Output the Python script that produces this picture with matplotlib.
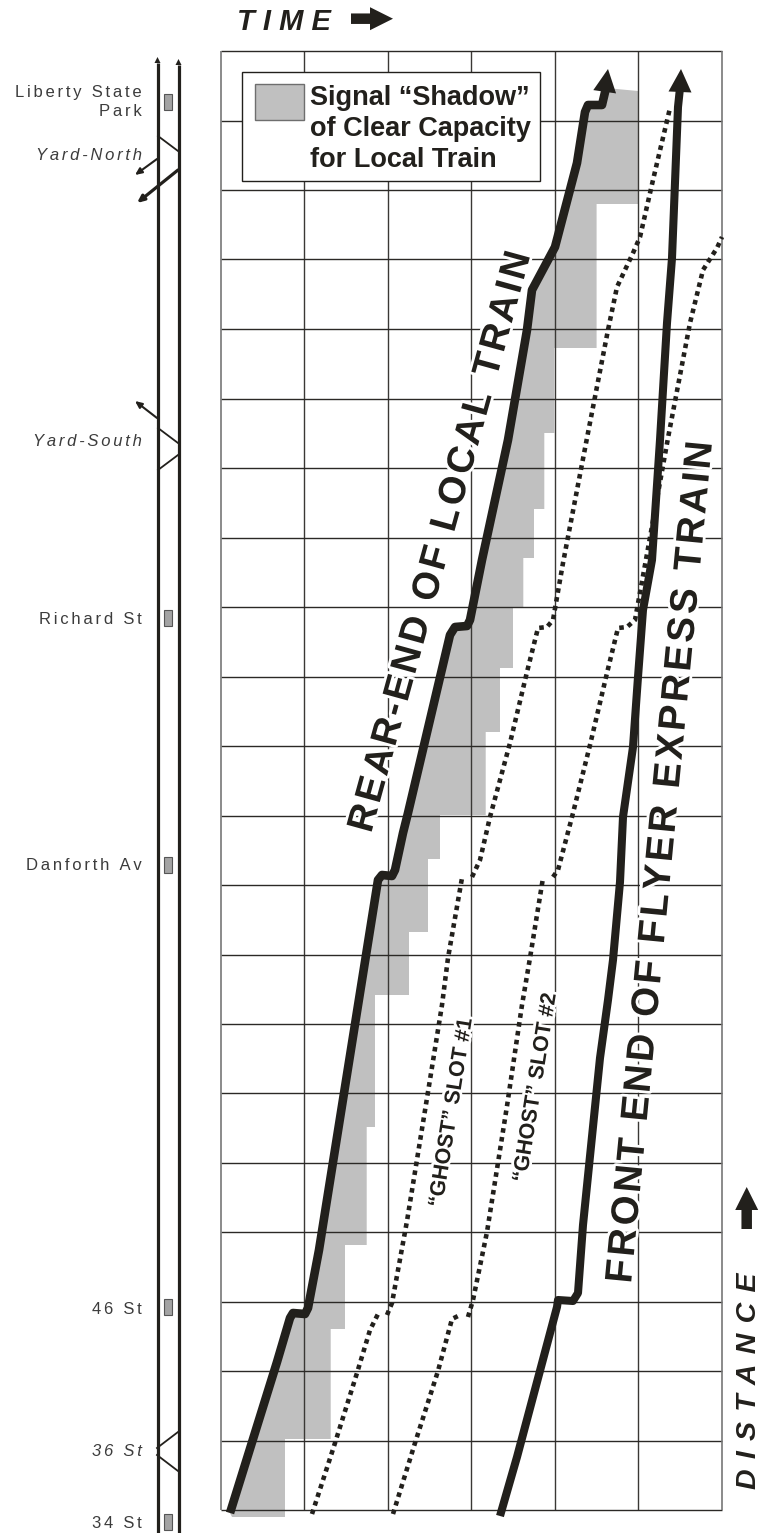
import numpy as np
import matplotlib
matplotlib.use("Agg")
import matplotlib.pyplot as plt
import matplotlib.patheffects as pe

plt.rcParams['font.family'] = ['Liberation Sans', 'DejaVu Sans']

# everything, in picture units (no numeric scale on the chart)
grid_x = [221, 304.4, 388, 471, 554.6, 638, 721.6]
grid_y = [51, 120.5, 189.8, 258.7, 329.2, 398.6, 468, 537.5, 607, 676.5, 746, 815.5,
          885, 954.5, 1023.5, 1093, 1163, 1232, 1301.5, 1371, 1441, 1510]

local_x = [230, 277, 290, 293, 305, 308, 319, 378, 382, 392, 395, 403, 408, 450, 455, 467, 470, 482, 508,
           527, 532, 555, 577, 585, 588, 602, 606]
local_y = [1513, 1362, 1318, 1313, 1314, 1308, 1250, 880, 875, 876, 870, 833, 813, 635, 627, 626, 620, 560, 440,
           330, 290, 247, 163, 112, 105, 105, 88]

express_x = [500, 517, 537, 557, 558, 573, 578, 583, 600, 608, 613, 620, 623, 633, 638, 643, 652, 660, 667, 672,
             678, 680]
express_y = [1516, 1457, 1382, 1307, 1300, 1301, 1293, 1225, 1058, 1000, 960, 882, 817, 747, 677, 610, 560, 440,
             323, 258, 107, 88]

ghost1_x = [312, 335, 357, 370, 378, np.nan, 387, 392, 407, 428, 442, 448, 462, np.nan, 472, 480, 490, 510, 527,
            538, 547, 553, 563, 587, 608, 617, 633, 640, 653, 670]
ghost1_y = [1514, 1443, 1373, 1330, 1314, np.nan, 1315, 1303, 1221, 1092, 1005, 958, 878, np.nan, 877, 860, 817,
            743, 672, 628, 627, 620, 563, 438, 330, 287, 253, 237, 180, 108]

ghost2_x = [393, 415, 438, 452, 460, np.nan, 468, 473, 487, 507, 522, 530, 543, np.nan, 553, 558, 572, 590, 607,
            618, 627, 635, 645, 668, 690, 703, 717, 722]
ghost2_y = [1514, 1443, 1371, 1319, 1315, np.nan, 1317, 1300, 1232, 1106, 1005, 958, 878, np.nan, 877, 870, 817,
            745, 673, 628, 627, 620, 565, 438, 323, 270, 248, 237]

shadow_x = [638, 638, 596.6, 596.6, 554.3, 554.3, 544.3, 544.3, 534, 534, 523.3, 523.3, 513, 513, 500, 500, 485.7,
            485.7, 440, 440, 428, 428, 409, 409, 375, 375, 366.7, 366.7, 345, 345, 330.7, 330.7, 285, 285, 232]
shadow_y = [91, 204, 204, 348, 348, 433, 433, 509, 509, 558, 558, 607, 607, 668, 668, 732, 732, 815, 815, 859, 859,
            932, 932, 995, 995, 1127, 1127, 1245, 1245, 1329, 1329, 1439, 1439, 1517, 1517]

stations = ["Liberty State\nPark", "Richard St", "Danforth Av", "46 St", "34 St"]
station_y = [102, 618, 865, 1307, 1522]
station_label_y = [102, 620, 865, 1309, 1524]
yards = ["Yard-North", "Yard-South", "36 St"]
yard_y = [155, 442, 1451]

INK = '#22201c'
GREY = '#c0c0c0'


def spaced(s, sep='\u200a'):
    return sep.join(s)


fig = plt.figure(figsize=(7.62, 15.33), dpi=100)
ax = fig.add_axes([0, 0, 1, 1])
ax.set_xlim(0, 762)
ax.set_ylim(1533, 0)
ax.axis('off')

# signal shadow
ax.fill(np.r_[local_x, shadow_x], np.r_[local_y, shadow_y], color=GREY, lw=0, zorder=1)

# grid
ax.vlines(grid_x[1:-1], grid_y[0], grid_y[-1], color='#3a3835', lw=1.0, zorder=2)
ax.hlines(grid_y, grid_x[0], grid_x[-1], color='#2b2926', lw=1.0, zorder=2)
ax.vlines([grid_x[0], grid_x[-1]], grid_y[0], grid_y[-1], color='#777777', lw=1.2, zorder=2)

# labels along the trains, white halo breaks the grid
halo = [pe.withStroke(linewidth=4, foreground='white')]
big = dict(rotation_mode='anchor', ha='left', va='baseline', color=INK, fontweight='bold',
           path_effects=halo, zorder=3)
ax.text(371, 834, spaced("REAR-END OF LOCAL TRAIN"), rotation=74.6, fontsize=27.3, **big)
ax.text(631, 1284, spaced("FRONT END OF FLYER EXPRESS TRAIN"), rotation=84.5, fontsize=27.7, **big)
ax.text(442, 1208, "\u201cGHOST\u201d SLOT #1", rotation=81, fontsize=15.5, **big)
ax.text(526, 1183, "\u201cGHOST\u201d SLOT #2", rotation=81, fontsize=15.5, **big)

# trains
ax.plot(ghost1_x, ghost1_y, color=INK, lw=3.3, ls=(0, (1, 0.95)), zorder=4)
ax.plot(ghost2_x, ghost2_y, color=INK, lw=3.3, ls=(0, (1, 0.95)), zorder=4)
ax.plot(local_x, local_y, color=INK, lw=6.2, solid_joinstyle='round', solid_capstyle='butt', zorder=4)
ax.plot(express_x, express_y, color=INK, lw=5.8, solid_joinstyle='round', solid_capstyle='butt', zorder=4)
ax.arrow(604.5, 93, 3.5, -24, width=0, head_width=23, head_length=23, length_includes_head=True,
         fc=INK, ec=INK, lw=0, zorder=5)
ax.arrow(680, 92, 1, -23, width=0, head_width=23, head_length=23, length_includes_head=True,
         fc=INK, ec=INK, lw=0, zorder=5)

# legend box
ax.fill([241.7, 540.3, 540.3, 241.7], [72, 72, 181, 181], fc='white', ec=INK, lw=1.0, zorder=6)
ax.fill([255, 303.5, 303.5, 255], [84, 84, 120, 120], fc=GREY, ec='#6e6e6e', lw=1.0, zorder=6)
for txt, yy in zip(["Signal \u201cShadow\u201d", "of Clear Capacity", "for Local Train"], [105, 136.5, 167]):
    ax.text(310, yy, txt, fontsize=19.5, fontweight='bold', color=INK, va='baseline', ha='left', zorder=7)

# time and distance
ax.text(237, 30, "T I M E", fontsize=21, fontweight='bold', fontstyle='italic', color=INK, va='baseline', ha='left')
ax.arrow(351, 18.7, 42, 0, width=10.5, head_width=23, head_length=23, length_includes_head=True,
         fc=INK, ec=INK, lw=0)
ax.text(756, 1489, "D\u200a I\u200a S\u200a T\u200a A\u200a N\u200a C\u200a E", fontsize=20.5, fontweight='bold',
        fontstyle='italic', color=INK, rotation=90, rotation_mode='anchor', va='baseline', ha='left')
ax.arrow(746.7, 1229, 0, -42, width=10.5, head_width=23, head_length=23, length_includes_head=True,
         fc=INK, ec=INK, lw=0)

# track panel
for tx, top in [(157.5, 57), (178.5, 59)]:
    ax.plot([tx, tx], [top + 6, 1533], color=INK, lw=2.3, solid_capstyle='butt')
    ax.arrow(tx, top + 6, 0, -6, width=0, head_width=6, head_length=6, length_includes_head=True,
             fc=INK, ec=INK, lw=0)
crossovers = [(158, 136, 178, 151), (178, 1432, 157, 1448), (157, 1455, 178, 1471), (158, 428, 178, 443),
              (178, 455, 158, 470)]
for x0, y0, x1, y1 in crossovers:
    ax.plot([x0, x1], [y0, y1], color=INK, lw=1.3)
for x0, y0, x1, y1, w in [(157, 159, 135, 175, 1.5), (178, 170, 137, 203, 2.3), (157, 418, 135, 401, 1.5)]:
    ax.annotate('', xy=(x1, y1), xytext=(x0, y0),
                arrowprops=dict(arrowstyle='-|>,head_width=0.18,head_length=0.4', color=INK, lw=w,
                                shrinkA=0, shrinkB=0))

for yy in station_y:
    ax.fill([163.5, 172, 172, 163.5], [yy - 8, yy - 8, yy + 8, yy + 8], fc='#a3a3a3', ec='#555555', lw=0.8)

lab = dict(fontsize=12, color='#3c3c3c', ha='right', va='center', linespacing=1.3)
for s, yy in zip(stations, station_label_y):
    ax.text(142, yy, '\n'.join(spaced(p, '\u200a\u200a') for p in s.split('\n')), **lab)
for s, yy in zip(yards, yard_y):
    ax.text(142, yy, spaced(s, '\u200a\u200a'), fontstyle='italic', **lab)

fig.savefig('out.png', dpi=100)
